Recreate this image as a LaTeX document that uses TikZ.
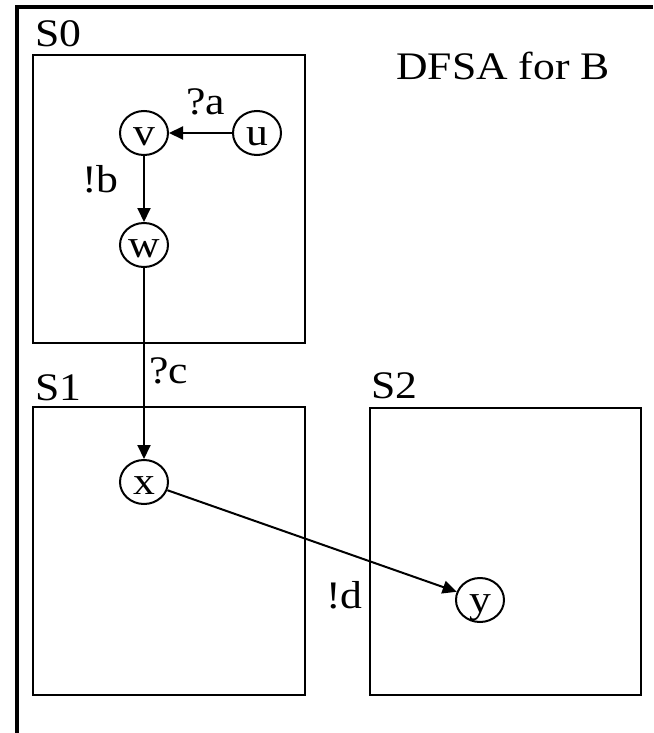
\documentclass[tikz,border=0pt]{standalone}
\usepackage{fontspec}
\setmainfont{Liberation Serif}[FakeStretch=1.12]
\usetikzlibrary{shapes.geometric,arrows.meta}
\begin{document}
\begin{tikzpicture}[x=1pt,y=-1pt,
  every node/.style={font=\fontsize{39}{39}\selectfont, inner sep=0pt},
  state/.style={draw, line width=2pt, ellipse, minimum width=48pt, minimum height=44pt, text height=25pt, text depth=0pt},
  box/.style={draw, line width=2.2pt},
  lbl/.style={anchor=base west},
  arr/.style={draw, line width=2pt, -{Triangle[length=14pt,width=13pt]}}]
\useasboundingbox (0,0) rectangle (653,733);
\fill[white] (0,0) rectangle (653,733);
% outer frame
\draw[line width=3.5pt] (17,733) -- (17,7) -- (653,7);
% boxes
\draw[box] (33,55) rectangle (305,343);
\draw[box] (33,407) rectangle (305,695);
\draw[box] (370,408) rectangle (641,695);
% box labels
\node[lbl] (s0) at (35,47) {S0};
\node[lbl] (s1) at (35,400) {S1};
\node[lbl] (s2) at (371,398) {S2};
\node[lbl] (title) at (396,80) {DFSA for B};
% states
\node[state] (v) at (144,133) {v};
\node[state] (u) at (257,133) {u};
\node[state] (w) at (144,245) {w};
\node[state] (x) at (144,482) {x};
\node[state] (y) at (480,600) {y};
% transitions
\draw[arr] (u) -- (v);
\draw[arr] (v) -- (w);
\draw[arr] (w) -- (x);
\draw[arr] (x) -- (y);
% transition labels
\node[lbl] (la) at (186,115) {?a};
\node[lbl] (lb) at (82,192) {!b};
\node[lbl] (lc) at (149,383) {?c};
\node[lbl] (ld) at (326,608) {!d};
\end{tikzpicture}
\end{document}
